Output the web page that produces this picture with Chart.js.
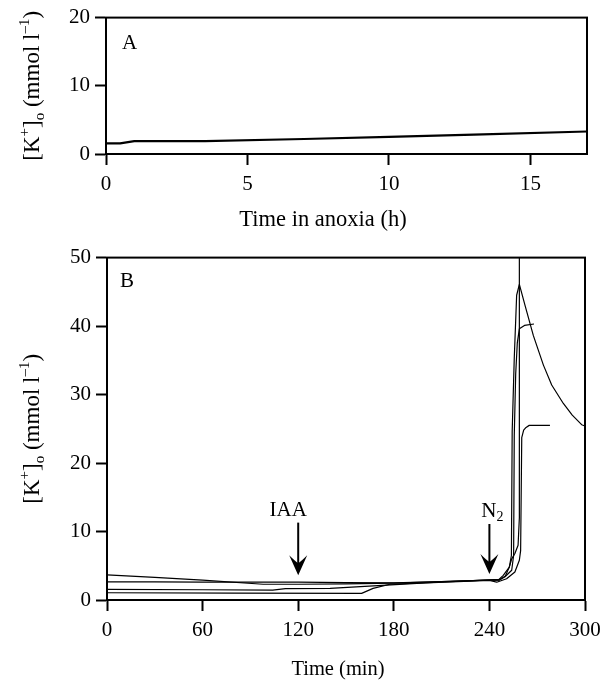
<!DOCTYPE html>
<html>
<head>
<meta charset="utf-8">
<title>[K+]o in anoxia</title>
<script src="https://cdn.jsdelivr.net/npm/chart.js@4.4.1/dist/chart.umd.min.js"></script>
<style>
  html, body { margin: 0; padding: 0; background: #fff; }
  #figure { position: relative; width: 612px; height: 680px; }
  #figure canvas { position: absolute; left: 0; }
  #chartA { top: 0; }
  #chartB { top: 240px; }
</style>
</head>
<body>
<div id="figure">
  <canvas id="chartA" width="612" height="240"></canvas>
  <canvas id="chartB" width="612" height="440"></canvas>
</div>
<script>
// ── Panel A: long anoxia run (h) ──
var anoxiaHours = [0, 0.5, 1.0, 3.5, 7, 10, 13, 17];
var anoxiaK     = [1.55, 1.55, 1.9, 1.9, 2.2, 2.5, 2.85, 3.3];
var anoxiaXTicks = [0, 5, 10, 15];
var anoxiaYTicks = [0, 10, 20];

// ── Panel B: four runs, IAA then N2 (min) ──
var run1Min = [0, 30, 60, 90, 120, 150, 180, 210, 240, 246, 250, 252.5, 253.8, 254.3, 255.6, 257.1, 258.8, 262.4, 267.6, 273.9, 279.1, 286.4, 292, 297.9, 300];
var run1K   = [2.65, 2.65, 2.6, 2.6, 2.6, 2.55, 2.5, 2.7, 2.9, 2.9, 3.5, 4.8, 6.5, 24.6, 35.3, 44.5, 46.1, 43.0, 38.6, 34.3, 31.4, 28.7, 27.0, 25.6, 25.4];

var run2Min = [0, 30, 60, 98, 120, 150, 180, 210, 240, 246, 249.8, 254, 255.2, 255.6, 256.5, 257.5, 258.8, 262, 268];
var run2K   = [3.67, 3.3, 2.9, 2.3, 2.3, 2.35, 2.45, 2.7, 2.9, 2.9, 3.4, 4.35, 6.5, 24, 33, 37.5, 39.6, 40.1, 40.3];

var run3Min = [0, 60, 104, 112, 140, 170, 200, 240, 244.6, 250.8, 256, 258.8, 259.6, 260.3, 261.5, 263, 265, 278];
var run3K   = [1.55, 1.5, 1.45, 1.65, 1.7, 2.1, 2.5, 2.85, 2.6, 3.1, 4.1, 5.8, 7.2, 23.7, 24.8, 25.2, 25.5, 25.5];

var run4Min = [0, 80, 159.8, 167, 177.6, 198, 240, 246, 248.7, 252.5, 254, 256, 258, 258.8, 258.8];
var run4K   = [1.06, 1.0, 0.97, 1.7, 2.3, 2.5, 2.95, 3.0, 3.6, 4.8, 6.0, 6.8, 8, 12, 55];

var minuteXTicks = [0, 60, 120, 180, 240, 300];
var minuteYTicks = [0, 10, 20, 30, 40, 50];

// ── Arrows (treatment times) ──
var arrowMin  = [120, 240];
var arrowTopK = [11.3, 11.1];
var arrowTipK = [3.6, 3.8];

var SERIF = "'Liberation Serif', 'Times New Roman', serif";
var kLabel = [{ t: '[K' }, { t: '+', sup: true }, { t: ']' }, { t: 'o', sub: true },
              { t: ' (mmol l' }, { t: '\u20131', sup: true }, { t: ')' }];

// ── Helpers ──
function toPoints(xs, ys) {
  return xs.map(function(x, i) { return { x: x, y: ys[i] }; });
}

function segFont(s, size) {
  var sz = (s.sup || s.sub) ? Math.round(size * 0.65) : size;
  return sz + 'px ' + SERIF;
}

function drawRich(ctx, segs, x, y, align, size) {
  var total = 0;
  var widths = segs.map(function(s) {
    ctx.font = segFont(s, size);
    var w = ctx.measureText(s.t).width;
    total += w;
    return w;
  });
  var cx = align === 'center' ? x - total / 2 : x;
  ctx.textAlign = 'left';
  ctx.textBaseline = 'alphabetic';
  segs.forEach(function(s, i) {
    ctx.font = segFont(s, size);
    var dy = s.sup ? -0.42 * size : (s.sub ? 0.2 * size : 0);
    ctx.fillText(s.t, cx, y + dy);
    cx += widths[i];
  });
}

function axis(isY, min, max, tickValues, fitSize) {
  return {
    type: 'linear',
    position: isY ? 'left' : 'bottom',
    min: min,
    max: max,
    afterBuildTicks: function(scale) {
      scale.ticks = tickValues.map(function(v) { return { value: v }; });
    },
    afterFit: function(scale) {
      if (isY) scale.width = fitSize; else scale.height = fitSize;
    },
    grid: { drawOnChartArea: false, drawTicks: true, tickLength: 11, tickWidth: 2, tickColor: '#000' },
    border: { display: true, color: '#000', width: 2 },
    ticks: { color: '#000', padding: isY ? 5 : 7, autoSkip: false, maxRotation: 0,
             font: { family: SERIF, size: 21 } }
  };
}

function lineSet(xs, ys, width) {
  return {
    data: toPoints(xs, ys),
    borderColor: '#000',
    borderWidth: width,
    pointRadius: 0,
    tension: 0,
    fill: false,
    borderJoinStyle: 'round'
  };
}

// ── Box, titles, panel letters, arrows ──
function figureText(cfg) {
  return {
    id: 'figureText' + cfg.letter,
    afterDraw: function(chart) {
      var ctx = chart.ctx;
      var a = chart.chartArea;
      ctx.save();
      ctx.strokeStyle = '#000';
      ctx.fillStyle = '#000';
      ctx.lineWidth = 2;
      ctx.strokeRect(a.left, a.top, a.right - a.left, a.bottom - a.top);

      drawRich(ctx, [{ t: cfg.letter }], a.left + cfg.letterDx, a.top + cfg.letterDy, 'left', 21);
      drawRich(ctx, cfg.xTitle, cfg.xTitleX, cfg.xTitleY, 'center', cfg.xTitleSize);

      ctx.save();
      ctx.translate(39, (a.top + a.bottom) / 2);
      ctx.rotate(-Math.PI / 2);
      drawRich(ctx, kLabel, 0, 0, 'center', 23);
      ctx.restore();

      if (cfg.arrows) {
        var xs = chart.scales.x, ys = chart.scales.y;
        cfg.arrows.forEach(function(lab, i) {
          var x = xs.getPixelForValue(arrowMin[i]);
          var yTop = ys.getPixelForValue(arrowTopK[i]);
          var yTip = ys.getPixelForValue(arrowTipK[i]);
          ctx.lineWidth = 2;
          ctx.beginPath();
          ctx.moveTo(x, yTop);
          ctx.lineTo(x, yTip - 10);
          ctx.stroke();
          ctx.beginPath();
          ctx.moveTo(x, yTip);
          ctx.lineTo(x - 9, yTip - 20);
          ctx.quadraticCurveTo(x - 3, yTip - 14, x, yTip - 12);
          ctx.quadraticCurveTo(x + 3, yTip - 14, x + 9, yTip - 20);
          ctx.closePath();
          ctx.fill();
          drawRich(ctx, lab.text, x + lab.dx, yTop - 7, 'center', 21);
        });
      }
      ctx.restore();
    }
  };
}

// ── Panel A ──
new Chart(document.getElementById('chartA'), {
  type: 'line',
  data: { datasets: [lineSet(anoxiaHours, anoxiaK, 2.2)] },
  options: {
    responsive: false,
    animation: false,
    events: [],
    layout: { padding: { left: 0, top: 16, right: 25, bottom: 0 } },
    plugins: { legend: { display: false }, tooltip: { enabled: false } },
    scales: {
      x: axis(false, 0, 17, anoxiaXTicks, 86),
      y: axis(true, 0, 20, anoxiaYTicks, 106)
    }
  },
  plugins: [figureText({
    letter: 'A', letterDx: 16, letterDy: 31,
    xTitle: [{ t: 'Time in anoxia (h)' }], xTitleX: 323, xTitleY: 226, xTitleSize: 22.5
  })]
});

// ── Panel B ──
new Chart(document.getElementById('chartB'), {
  type: 'line',
  data: {
    datasets: [
      lineSet(run1Min, run1K, 1.2),
      lineSet(run2Min, run2K, 1.2),
      lineSet(run3Min, run3K, 1.2),
      lineSet(run4Min, run4K, 1.2)
    ]
  },
  options: {
    responsive: false,
    animation: false,
    events: [],
    layout: { padding: { left: 0, top: 16, right: 27, bottom: 0 } },
    plugins: { legend: { display: false }, tooltip: { enabled: false } },
    scales: {
      x: axis(false, 0, 300, minuteXTicks, 80),
      y: axis(true, 0, 50, minuteYTicks, 107)
    }
  },
  plugins: [figureText({
    letter: 'B', letterDx: 13, letterDy: 29,
    xTitle: [{ t: 'Time (min)' }], xTitleX: 338, xTitleY: 435, xTitleSize: 20.5,
    arrows: [
      { text: [{ t: 'IAA' }], dx: -10 },
      { text: [{ t: 'N' }, { t: '2', sub: true }], dx: 3 }
    ]
  })]
});
</script>
</body>
</html>
